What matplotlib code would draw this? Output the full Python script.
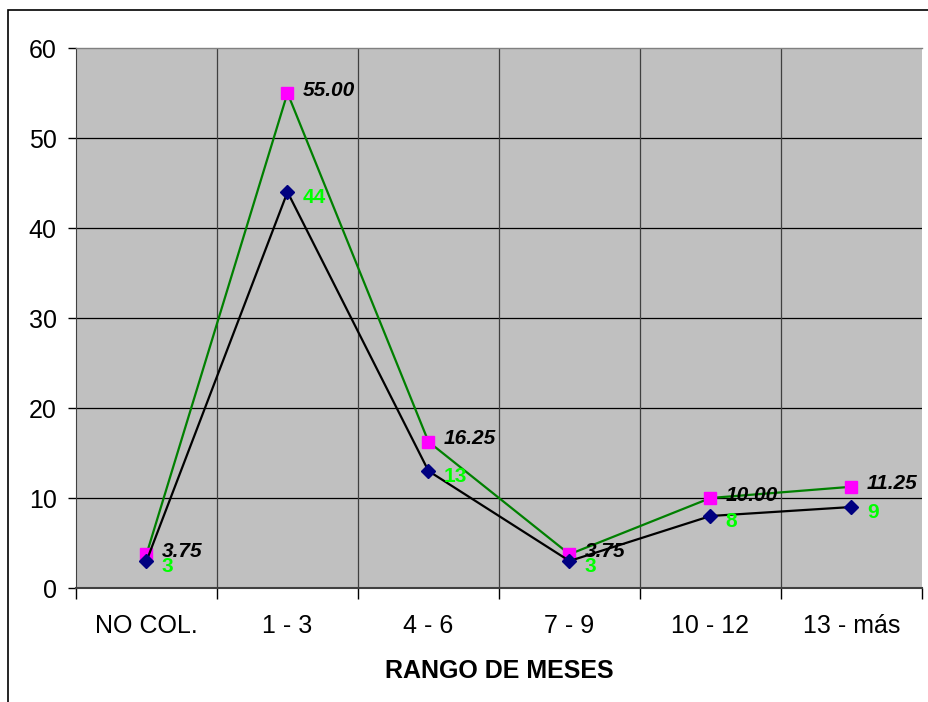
import matplotlib
matplotlib.use("Agg")
import matplotlib.pyplot as plt
from matplotlib.patches import Rectangle

plt.rcParams['font.family'] = ['Liberation Sans', 'DejaVu Sans']

categories = ["NO COL.", "1 - 3", "4 - 6", "7 - 9", "10 - 12", "13 - más"]
counts = [3, 44, 13, 3, 8, 9]
percents = [3.75, 55.00, 16.25, 3.75, 10.00, 11.25]

fig = plt.figure(figsize=(9.29, 7.02), dpi=100)
W, H = 929, 702
ax = fig.add_axes([76 / W, 1 - 588 / H, (922 - 76) / W, (588 - 48) / H])

# outer chart frame
fig.patches.append(Rectangle((8 / W, -0.1), 1.2, 1 - 10 / H + 0.1, transform=fig.transFigure,
                             fill=False, edgecolor='black', linewidth=1.2))

ax.set_facecolor('#C0C0C0')
x = list(range(len(categories)))
ax.set_xlim(-0.5, len(categories) - 0.5)
ax.set_ylim(0, 60)

# grid
for yv in range(10, 60, 10):
    ax.axhline(yv, color='black', linewidth=0.9, zorder=1)
for b in range(1, len(categories)):
    ax.axvline(b - 0.5, color='#404040', linewidth=0.9, zorder=1)

ax.plot(x, percents, color='#008000', linewidth=1.6, marker='s', markersize=9,
        markerfacecolor='#FF00FF', markeredgecolor='#FF00FF', zorder=3)
ax.plot(x, counts, color='black', linewidth=1.6, marker='D', markersize=7,
        markerfacecolor='#000080', markeredgecolor='#000080', zorder=4)

for xi, p in zip(x, percents):
    ax.annotate(f"{p:.2f}", (xi, p), xytext=(11, 2), textcoords='offset points',
                fontsize=15, fontweight='bold', fontstyle='italic', color='black',
                va='center', ha='left', zorder=5)
for xi, c in zip(x, counts):
    ax.annotate(f"{c}", (xi, c), xytext=(11, -4), textcoords='offset points',
                fontsize=15, fontweight='bold', color='#00FF00',
                va='center', ha='left', zorder=6)

ax.set_yticks(range(0, 61, 10))
ax.set_yticklabels([str(v) for v in range(0, 61, 10)], fontsize=18)
ax.set_xticks(x)
ax.set_xticklabels(categories, fontsize=18)
ax.tick_params(axis='x', length=0, pad=19)
ax.tick_params(axis='y', length=6, width=1, direction='out', pad=8)
# category boundary ticks
ax.set_xticks([b - 0.5 for b in range(0, len(categories) + 1)], minor=True)
ax.tick_params(axis='x', which='minor', length=8, width=1, direction='out')

ax.set_xlabel("RANGO DE MESES", fontsize=18, fontweight='bold', labelpad=15)

ax.spines['top'].set_color('#808080')
ax.spines['top'].set_linewidth(1)
ax.spines['right'].set_visible(False)
ax.spines['left'].set_color('#404040')
ax.spines['bottom'].set_color('#404040')
ax.spines['bottom'].set_linewidth(1.5)

fig.savefig("out.png", dpi=100)
